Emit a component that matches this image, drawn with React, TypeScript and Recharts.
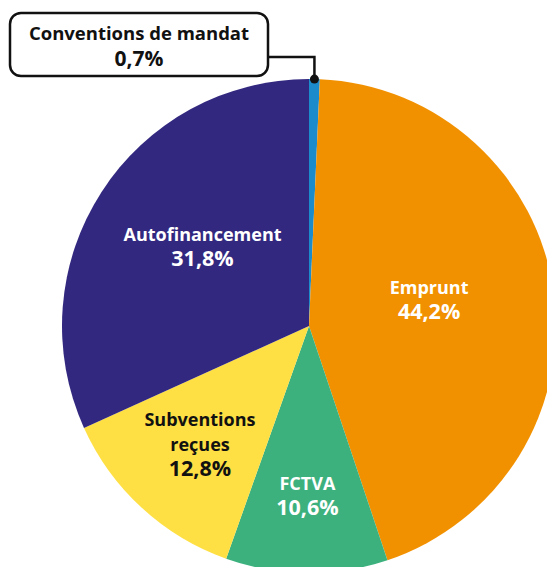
import React from 'react'
import { PieChart, Pie, Cell } from 'recharts'

const categories = ['Conventions de mandat', 'Emprunt', 'FCTVA', 'Subventions reçues', 'Autofinancement']
const shares = [0.7, 44.2, 10.6, 12.8, 31.8]
const labelLines = [['Conventions de mandat'], ['Emprunt'], ['FCTVA'], ['Subventions', 'reçues'], ['Autofinancement']]

const colors = ['#1B8BCC', '#F29100', '#3CB17E', '#FEDF44', '#32287F']
const textColors = ['#111', '#fff', '#fff', '#111', '#fff']
// label placement tweaks: distance from centre and angle shift (deg)
const labelRadius = [0, 123, 170, 161, 133]
const labelShift = [0, 4.5, 0, 0, -4]

const data = categories.map((name, i) => ({ name, value: shares[i] }))

const RAD = Math.PI / 180
const FONT = '"Open Sans", sans-serif'

const fmt = (v: number) => v.toFixed(1).replace('.', ',') + '%'

const renderLabel = (props: any) => {
  const { cx, cy, midAngle, outerRadius, index, value } = props
  if (index === 0) {
    // callout box for the tiny slice
    const px = cx + outerRadius * Math.cos(-midAngle * RAD)
    const py = cy + outerRadius * Math.sin(-midAngle * RAD)
    const bx = 10, by = 13, bw = 258, bh = 63
    const lineY = 57
    return (
      <g>
        <polyline
          points={`${bx + bw},${lineY} ${px},${lineY} ${px},${py}`}
          fill="none"
          stroke="#111"
          strokeWidth={2.5}
        />
        <circle cx={px} cy={py} r={4.5} fill="#111" />
        <rect x={bx} y={by} width={bw} height={bh} rx={11} fill="#fff" stroke="#111" strokeWidth={2.5} />
        <text x={bx + bw / 2} y={40} textAnchor="middle" fill="#111" fontFamily={FONT} fontWeight={700} fontSize={18.5}>
          {labelLines[0][0]}
        </text>
        <text x={bx + bw / 2} y={66} textAnchor="middle" fill="#111" fontFamily={FONT} fontWeight={700} fontSize={21}>
          {fmt(value)}
        </text>
      </g>
    )
  }
  const a = (midAngle + labelShift[index]) * RAD
  const r = labelRadius[index]
  const x = cx + r * Math.cos(a)
  const y = cy - r * Math.sin(a)
  const lines = [...labelLines[index], fmt(value)]
  const n = lines.length
  return (
    <g>
      {lines.map((t, i) => (
        <text
          key={i}
          x={x}
          y={y + (i - (n - 1) / 2) * 25 + 7}
          textAnchor="middle"
          fill={textColors[index]}
          fontFamily={FONT}
          fontWeight={700}
          fontSize={i === n - 1 ? 21.5 : 18}
        >
          {t}
        </text>
      ))}
    </g>
  )
}

const App: React.FC = () => {
  return (
    <div style={{ position: 'absolute', left: 0, top: 0 }}>
      <PieChart width={547} height={567} margin={{ top: 0, right: 0, left: 0, bottom: 0 }}>
        <Pie
          data={data}
          dataKey="value"
          nameKey="name"
          cx={309}
          cy={326}
          outerRadius={247}
          startAngle={90}
          endAngle={-270}
          stroke="none"
          label={renderLabel}
          labelLine={false}
          isAnimationActive={false}
        >
          {data.map((d, i) => (
            <Cell key={d.name} fill={colors[i]} />
          ))}
        </Pie>
      </PieChart>
    </div>
  )
}

export default App
